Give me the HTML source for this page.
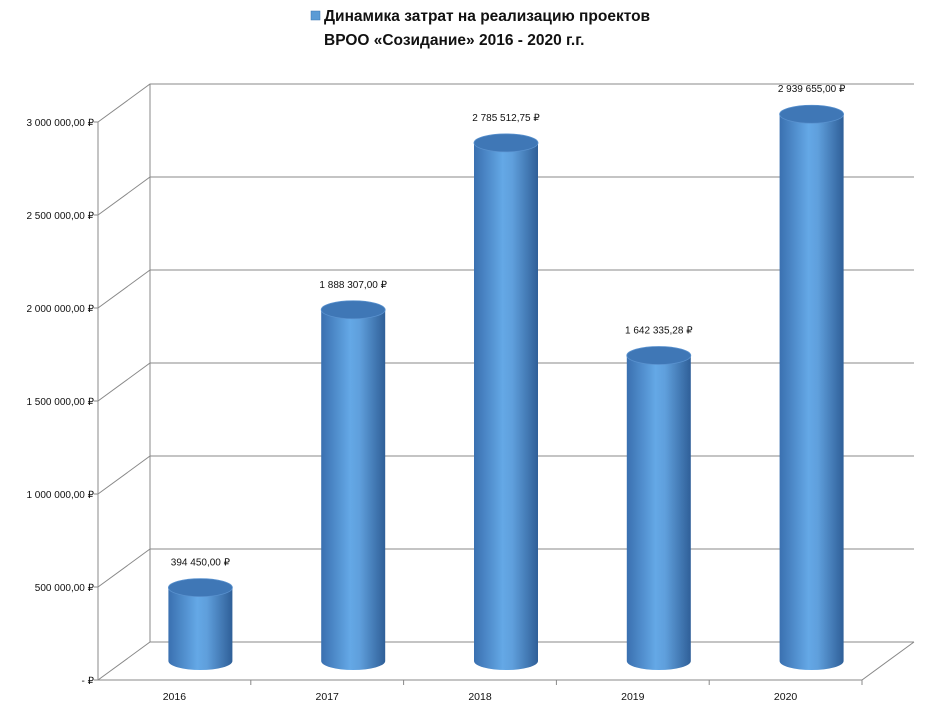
<!DOCTYPE html>
<html><head><meta charset="utf-8"><style>
body{margin:0;background:#fff;width:931px;height:713px;overflow:hidden;font-family:"Liberation Sans",sans-serif}
svg text{font-family:"Liberation Sans",sans-serif}
</style></head><body>
<svg id="chart" width="931" height="713" viewBox="0 0 931 713" xmlns="http://www.w3.org/2000/svg">
<defs>
<linearGradient id="cyl" x1="0" x2="1" y1="0" y2="0">
<stop offset="0" stop-color="#3a70b0"/><stop offset="0.45" stop-color="#64a8e6"/><stop offset="0.6" stop-color="#5f9fdc"/><stop offset="1" stop-color="#2f5f98"/>
</linearGradient>
</defs>
<g>
<rect x="311" y="11" width="9" height="9" fill="#5b9bd5" stroke="#3a74b0" stroke-width="0.5"/>
<text x="324" y="21" font-size="15.5" font-weight="bold" fill="#111">Динамика затрат на реализацию проектов</text>
<text x="324" y="45" font-size="15.5" font-weight="bold" fill="#111">ВРОО «Созидание» 2016 - 2020 г.г.</text>
</g>
<g id="grid"></g><g id="bars"></g><g id="axes"></g>
</svg>
<script>
const categories=["2016","2017","2018","2019","2020"];
const values=[394450,1888307,2785512.75,1642335.28,2939655];
const valueLabels=["394 450,00 ₽","1 888 307,00 ₽","2 785 512,75 ₽","1 642 335,28 ₽","2 939 655,00 ₽"];
const ticks=[0,500000,1000000,1500000,2000000,2500000,3000000];
const tickLabels=["-   ₽","500 000,00 ₽","1 000 000,00 ₽","1 500 000,00 ₽","2 000 000,00 ₽","2 500 000,00 ₽","3 000 000,00 ₽"];
const NS="http://www.w3.org/2000/svg";
const X0=98,X1=862,Y0=680,YT=122,DX=52,DY=-38,VMAX=3000000;
const y=v=>Y0-(v/VMAX)*(Y0-YT);
const cw=(X1-X0)/categories.length;
const xc=i=>X0+cw*(i+0.5);
function mk(t,a,p){const e=document.createElementNS(NS,t);for(const k in a)e.setAttribute(k,a[k]);p.appendChild(e);return e;}
const grid=document.getElementById('grid'),bars=document.getElementById('bars'),axes=document.getElementById('axes');
// back wall & floor
mk('line',{x1:X0+DX,y1:y(VMAX)+DY,x2:X0+DX,y2:Y0+DY,stroke:'#888','stroke-width':1},grid);
ticks.forEach((t,i)=>{
 const g=mk('g',{},grid);
 
 
 mk('polyline',{points:`${X0},${y(t)} ${X0+DX},${y(t)+DY} ${X1+DX},${y(t)+DY}`,fill:'none',stroke:'#888','stroke-width':1},g);
 const tx=mk('text',{x:X0-4,y:y(t)+4,'font-size':10,'text-anchor':'end',fill:'#111'},axes);
 
 
 tx.textContent=tickLabels[i];
 mk('line',{x1:X0-4,y1:y(t),x2:X0,y2:y(t),stroke:'#888'},axes);
});
mk('line',{x1:X0,y1:YT,x2:X0,y2:Y0,stroke:'#888'},axes);
mk('polyline',{points:`${X0},${Y0} ${X1},${Y0} ${X1+DX},${Y0+DY}`,fill:'none',stroke:'#888'},axes);
categories.forEach((c,i)=>{
 mk('line',{x1:X0+cw*(i+1),y1:Y0,x2:X0+cw*(i+1),y2:Y0+5,stroke:'#888'},axes);
 const t=mk('text',{x:xc(i),y:Y0+20,'font-size':10.5,'text-anchor':'middle',fill:'#111'},axes);
 
 
 t.textContent=c;
 const cx=xc(i)+DX/2,base=Y0+DY/2,top=y(values[i])+DY/2,r=32,ry=9;
 const g=mk('g',{},bars);
 
 
 mk('path',{d:`M${cx-r},${top} L${cx-r},${base} A${r},${ry} 0 0 0 ${cx+r},${base} L${cx+r},${top} Z`,fill:'url(#cyl)'},g);
 mk('ellipse',{cx:cx,cy:top,rx:r,ry:ry,fill:'#3f77b6',stroke:'#5a92cf','stroke-width':0.8},g);
 const l=mk('text',{x:cx,y:top-22,'font-size':10,'text-anchor':'middle',fill:'#111'},bars);
 
 
 l.textContent=valueLabels[i];
});
</script>
</body></html>
